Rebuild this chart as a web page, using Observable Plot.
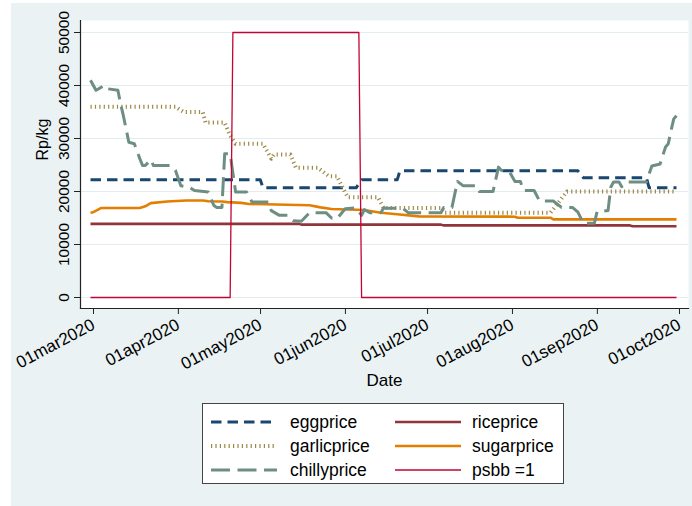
<!DOCTYPE html>
<html><head><meta charset="utf-8">
<script src="https://cdn.jsdelivr.net/npm/d3@7"></script>
<script src="https://cdn.jsdelivr.net/npm/@observablehq/plot@0.6"></script>
<style>
html,body{margin:0;padding:0;background:#fff;}
#bg{position:absolute;left:11px;top:3px;width:681px;height:503px;background:#eaf2f3;}
#chart{position:absolute;left:0;top:0;}
#legend{position:absolute;left:202px;top:403px;width:360px;height:79px;border:1.3px solid #444;background:#fff;font-family:"Liberation Sans",Arial,Helvetica,sans-serif;font-size:17.5px;color:#000;}
.item{position:absolute;height:20px;display:flex;align-items:center;white-space:nowrap;}
.item svg{display:block;}
.item span{position:absolute;left:77px;top:0;line-height:20px;}
</style></head><body>
<div id="bg"></div><div id="chart"></div><div id="legend"></div>
<script>
// ---- data ----
const eggDates  = ["2020-03-01","2020-05-02","2020-05-03","2020-06-06","2020-06-08","2020-06-21","2020-06-22","2020-08-26","2020-08-28","2020-09-20","2020-09-21","2020-10-01"];
const eggPrice  = [22200,22200,20700,20700,22200,22200,23900,23900,22600,22600,20700,20700];

const riceDates = ["2020-03-01","2020-05-16","2020-05-17","2020-07-07","2020-07-08","2020-09-14","2020-09-15","2020-10-01"];
const ricePrice = [13900,13900,13750,13750,13600,13600,13450,13450];

const garlicDates = ["2020-03-01","2020-04-01","2020-04-04","2020-04-11","2020-04-12","2020-04-19","2020-04-21","2020-04-23","2020-05-03","2020-05-06","2020-05-07","2020-05-13","2020-05-15","2020-05-23","2020-05-27","2020-05-30","2020-06-01","2020-06-03","2020-06-14","2020-06-16","2020-07-07","2020-07-08","2020-08-16","2020-08-19","2020-08-22","2020-10-01"];
const garlicPrice = [36000,36000,35000,35000,33000,33000,30500,29000,29000,26200,27000,27000,24500,24500,22900,22900,20800,18900,18900,16900,16900,16000,16000,18000,20000,20000];

const sugarDates = ["2020-03-01","2020-03-02","2020-03-05","2020-03-19","2020-03-21","2020-03-23","2020-03-29","2020-04-05","2020-04-11","2020-04-13","2020-04-18","2020-04-20","2020-04-25","2020-04-28","2020-05-20","2020-05-24","2020-05-28","2020-06-09","2020-06-15","2020-06-21","2020-06-29","2020-08-03","2020-08-04","2020-08-16","2020-08-17","2020-10-01"];
const sugarPrice = [16000,16100,16900,16900,17200,17800,18100,18300,18300,18150,18100,18000,17850,17650,17400,17000,16700,16500,16000,15700,15300,15250,15050,15050,14750,14750];

const chillyDates = ["2020-03-01","2020-03-03","2020-03-04","2020-03-06","2020-03-07","2020-03-11","2020-03-12","2020-03-13","2020-03-15","2020-03-17","2020-03-19","2020-03-20","2020-03-21","2020-03-23","2020-03-24","2020-03-30","2020-04-01","2020-04-03","2020-04-06","2020-04-08","2020-04-13","2020-04-15","2020-04-16","2020-04-18","2020-04-19","2020-04-21","2020-04-23","2020-04-27","2020-04-29","2020-05-05","2020-05-06","2020-05-09","2020-05-12","2020-05-14","2020-05-17","2020-05-20","2020-05-26","2020-05-28","2020-05-30","2020-06-02","2020-06-06","2020-06-08","2020-06-09","2020-06-11","2020-06-15","2020-06-16","2020-06-23","2020-06-25","2020-07-07","2020-07-08","2020-07-11","2020-07-13","2020-07-15","2020-07-20","2020-07-21","2020-07-26","2020-07-28","2020-07-29","2020-08-01","2020-08-03","2020-08-05","2020-08-06","2020-08-10","2020-08-12","2020-08-17","2020-08-20","2020-08-24","2020-08-26","2020-08-28","2020-09-01","2020-09-02","2020-09-06","2020-09-07","2020-09-08","2020-09-10","2020-09-11","2020-09-13","2020-09-20","2020-09-22","2020-09-25","2020-09-27","2020-09-28","2020-09-29","2020-09-30","2020-10-01"];
const chillyPrice = [41000,39100,39400,40000,39400,39100,36500,34300,29300,29000,26200,24900,24900,26000,24900,24900,24000,21100,20800,20200,19900,17400,17000,17000,27100,27100,19900,19900,18000,18000,16400,15500,15500,14500,14400,16000,16000,15000,14850,16750,16900,15500,16600,16000,16000,16850,16850,16000,16000,17000,17000,21900,21100,21100,20000,20000,24600,24000,23700,21900,21900,20200,20200,18200,18200,17000,17000,16100,14000,14000,16200,16400,20800,21800,21800,20900,21800,21800,24800,25200,28400,29000,31500,33700,34300];

const psbbDates = ["2020-03-01","2020-04-21","2020-04-22","2020-06-07","2020-06-08","2020-10-01"];
const psbbValue = [0,0,50000,50000,0,0];

const yTicks = [0,10000,20000,30000,40000,50000];
const xTickDates = ["2020-03-01","2020-04-01","2020-05-01","2020-06-01","2020-07-01","2020-08-01","2020-09-01","2020-10-01"];
const xTickLabels = ["01mar2020","01apr2020","01may2020","01jun2020","01jul2020","01aug2020","01sep2020","01oct2020"];
const yTitle = "Rp/kg";
const xTitle = "Date";

// ---- build tables ----
const rows = (dates, values) => dates.map((d, i) => ({date: new Date(d), value: values[i]}));
const series = [
  {name: "eggprice",    data: rows(eggDates, eggPrice),       stroke: "#1a476f", width: 3,   dash: "10.5 6"},
  {name: "riceprice",   data: rows(riceDates, ricePrice),     stroke: "#90353b", width: 2.6, dash: null},
  {name: "garlicprice", data: rows(garlicDates, garlicPrice), stroke: "#9c8847", width: 4,   dash: "1.2 3.2"},
  {name: "sugarprice",  data: rows(sugarDates, sugarPrice),   stroke: "#e37e00", width: 2.6, dash: null},
  {name: "chillyprice", data: rows(chillyDates, chillyPrice), stroke: "#6e8e84", width: 3,   dash: "19 7.5"},
  {name: "psbb =1",     data: rows(psbbDates, psbbValue),     stroke: "#c10534", width: 1.3, dash: null}
];
const xTickTimes = xTickDates.map(d => new Date(d));
const labelByTime = new Map(xTickTimes.map((d, i) => [+d, xTickLabels[i]]));

const font = '"Liberation Sans", Arial, Helvetica, sans-serif';

const chart = Plot.plot({
  width: 692,
  height: 400,
  marginLeft: 80,
  marginRight: 4,
  marginTop: 20,
  marginBottom: 92,
  style: {background: "transparent", fontFamily: font, color: "#000", overflow: "visible"},
  x: {type: "utc", domain: [xTickTimes[0], xTickTimes[xTickTimes.length - 1]], insetLeft: 10, insetRight: 12},
  y: {domain: [0, 50000], insetTop: 12, insetBottom: 11},
  marks: [
    Plot.frame({fill: "white", stroke: "none"}),
    Plot.ruleY(yTicks, {stroke: "#e3ecef", strokeWidth: 1.2}),
    ...series.map(s => Plot.line(s.data, {
      x: "date", y: "value", stroke: s.stroke, strokeWidth: s.width,
      strokeDasharray: s.dash ?? undefined, strokeLinecap: "butt", strokeLinejoin: "round"
    })),
    Plot.frame({anchor: "left", stroke: "#222", strokeWidth: 1.2}),
    Plot.frame({anchor: "bottom", stroke: "#222", strokeWidth: 1.2}),
    Plot.axisY({ticks: yTicks, tickSize: 6, tickPadding: 6, tickRotate: -90, fontSize: 15.5,
      tickFormat: d => String(d), label: null, stroke: "#222"}),
    Plot.axisX({ticks: xTickTimes, tickSize: 6, tickPadding: 9, dx: 3, tickRotate: -28, fontSize: 17,
      tickFormat: d => labelByTime.get(+d), label: null, stroke: "#222"}),
    Plot.text([yTitle], {frameAnchor: "left", dx: -38, dy: -4, rotate: -90, fontSize: 16, fill: "#000"}),
    Plot.text([xTitle], {frameAnchor: "bottom", dy: 77, fontSize: 17, fill: "#000"})
  ]
});
document.getElementById("chart").appendChild(chart);

// ---- legend ----
const legend = d3.select("#legend");
const order = ["eggprice", "riceprice", "garlicprice", "sugarprice", "chillyprice", "psbb =1"];
order.forEach((name, i) => {
  const s = series.find(t => t.name === name);
  const col = i % 2, row = Math.floor(i / 2);
  const item = legend.append("div").attr("class", "item")
    .style("left", (col === 0 ? 8 : 192) + "px")
    .style("top", (8 + row * 24) + "px");
  const svg = item.append("svg").attr("width", 66).attr("height", 20);
  svg.append("line").attr("x1", 0).attr("x2", 66).attr("y1", 10).attr("y2", 10)
    .attr("stroke", s.stroke).attr("stroke-width", s.width)
    .attr("stroke-dasharray", s.dash).attr("stroke-linecap", "butt");
  item.append("span").text(s.name).style("left", (col === 0 ? 79 : 77) + "px");
});
</script></body></html>
